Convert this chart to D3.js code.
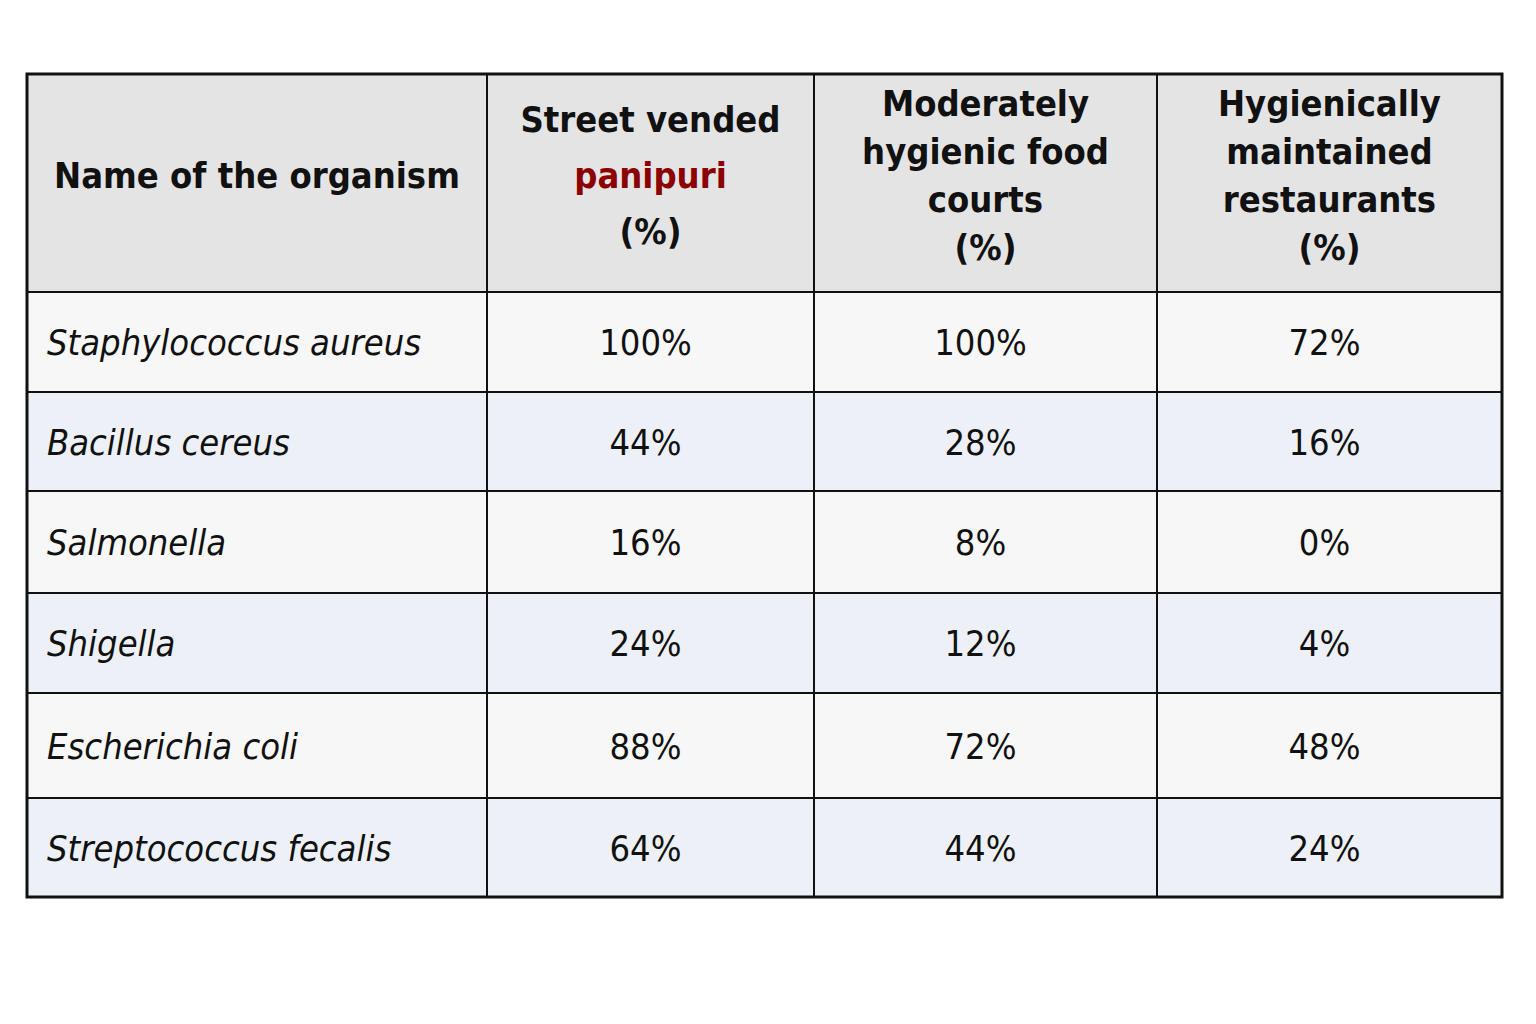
<!DOCTYPE html>
<html>
<head>
<script src="https://d3js.org/d3.v7.min.js"></script>
<style>
  body { margin: 0; background: #fff; }
  text { font-family: "DejaVu Sans Condensed", "Liberation Sans Narrow", sans-serif; font-stretch: condensed; fill: #111; }
</style>
</head>
<body>
<svg width="1536" height="1024"></svg>
<script>
var organisms = ["Staphylococcus aureus", "Bacillus cereus", "Salmonella", "Shigella", "Escherichia coli", "Streptococcus fecalis"];
var streetVended = [100, 44, 16, 24, 88, 64];
var moderatelyHygienic = [100, 28, 8, 12, 72, 44];
var hygienicRestaurants = [72, 16, 0, 4, 48, 24];
var headers = [
    [["Name of the organism"]],
    [["Street vended"], ["panipuri", "#8b0000"], ["(%)"]],
    [["Moderately"], ["hygienic food"], ["courts"], ["(%)"]],
    [["Hygienically"], ["maintained"], ["restaurants"], ["(%)"]]
];

var svg = d3.select("svg");
var colEdges = [27, 487, 814, 1157, 1502];
var rowEdges = [74, 292, 392, 491, 593, 693, 798, 897];
var rows = organisms.map(function(o, i) {
    return [o, streetVended[i] + "%", moderatelyHygienic[i] + "%", hygienicRestaurants[i] + "%"];
});

// header background
svg.append("rect").attr("x", colEdges[0]).attr("y", rowEdges[0])
    .attr("width", colEdges[4] - colEdges[0]).attr("height", rowEdges[1] - rowEdges[0])
    .attr("fill", "#e4e4e4");

// body rows
svg.selectAll(".row").data(rows).enter().append("rect")
    .attr("x", colEdges[0]).attr("y", function(d, i) { return rowEdges[i + 1]; })
    .attr("width", colEdges[4] - colEdges[0])
    .attr("height", function(d, i) { return rowEdges[i + 2] - rowEdges[i + 1]; })
    .attr("fill", function(d, i) { return i % 2 ? "#edf1f7" : "#f7f7f7"; });

// header text
headers.forEach(function(lines, c) {
    var cx = (colEdges[c] + colEdges[c + 1]) / 2;
    var cy = (rowEdges[0] + rowEdges[1]) / 2 - 8;
    var lh = lines.length === 3 ? 56 : 48;
    var t = svg.append("text").attr("text-anchor", "middle")
        .attr("font-size", 36).attr("font-weight", "bold");
    lines.forEach(function(l, k) {
        t.append("tspan").attr("x", cx)
            .attr("y", cy + (k - (lines.length - 1) / 2) * lh + 13)
            .style("fill", l[1] || "#111").text(l[0]);
    });
});

// body text
rows.forEach(function(r, i) {
    var cy = (rowEdges[i + 1] + rowEdges[i + 2]) / 2 + 13;
    r.forEach(function(v, c) {
        svg.append("text")
            .attr("x", c === 0 ? colEdges[0] + 20 : (colEdges[c] + colEdges[c + 1]) / 2 - 5)
            .attr("y", cy)
            .attr("text-anchor", c === 0 ? "start" : "middle")
            .attr("font-size", 36)
            .attr("font-style", c === 0 ? "italic" : "normal")
            .text(v);
    });
});

// grid lines
svg.selectAll(".h").data(rowEdges.slice(1, -1)).enter().append("line")
    .attr("x1", colEdges[0]).attr("x2", colEdges[4])
    .attr("y1", function(d) { return d; }).attr("y2", function(d) { return d; })
    .attr("stroke", "#111").attr("stroke-width", 2);
svg.selectAll(".v").data(colEdges.slice(1, -1)).enter().append("line")
    .attr("y1", rowEdges[0]).attr("y2", rowEdges[rowEdges.length - 1])
    .attr("x1", function(d) { return d; }).attr("x2", function(d) { return d; })
    .attr("stroke", "#111").attr("stroke-width", 2);
svg.append("rect").attr("x", colEdges[0]).attr("y", rowEdges[0])
    .attr("width", colEdges[4] - colEdges[0])
    .attr("height", rowEdges[rowEdges.length - 1] - rowEdges[0])
    .attr("fill", "none").attr("stroke", "#111").attr("stroke-width", 3);
</script>
</body>
</html>
